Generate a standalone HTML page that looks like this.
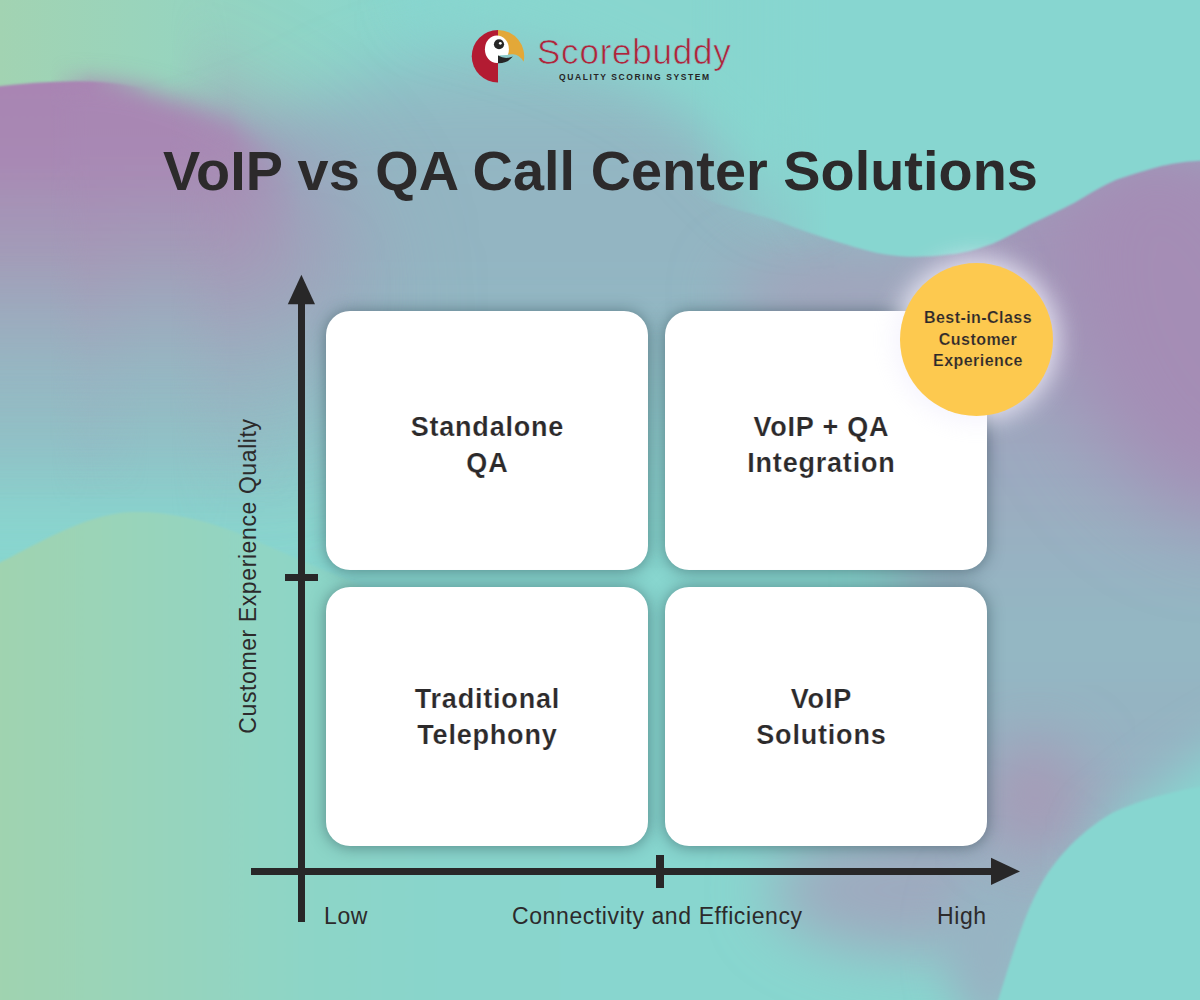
<!DOCTYPE html>
<html><head><meta charset="utf-8">
<style>
html,body{margin:0;padding:0;}
body{width:1200px;height:1000px;overflow:hidden;position:relative;font-family:"Liberation Sans",sans-serif;color:#2c2a2b;background:#88d6cf;}
#bg{position:absolute;left:0;top:0;width:1200px;height:1000px;}
.abs{position:absolute;}
.card{position:absolute;background:#fff;border-radius:24px;box-shadow:0 1px 16px rgba(30,55,65,0.5);}
.ct{position:absolute;left:0;right:0;text-align:center;font-weight:bold;font-size:27px;line-height:36px;color:#2c2a2b;letter-spacing:0.8px;padding-left:0.8px;-webkit-text-stroke:0.2px #fff;}
.bar{position:absolute;background:#282728;}
.lbl{position:absolute;white-space:nowrap;font-size:23px;color:#2c2a2b;letter-spacing:0.6px;}
</style></head>
<body>
<svg id="bg" width="1200" height="1000" viewBox="0 0 1200 1000">
  <defs>
    <filter id="b2" x="-20%" y="-20%" width="140%" height="140%"><feGaussianBlur stdDeviation="1.2"/></filter>
    <filter id="b20" x="-50%" y="-50%" width="200%" height="200%"><feGaussianBlur stdDeviation="20"/></filter>
    <filter id="b30" x="-50%" y="-50%" width="200%" height="200%"><feGaussianBlur stdDeviation="30"/></filter>
    <filter id="b45" x="-50%" y="-50%" width="200%" height="200%"><feGaussianBlur stdDeviation="45"/></filter>
    <linearGradient id="gTop" x1="0" y1="0" x2="420" y2="0" gradientUnits="userSpaceOnUse">
      <stop offset="0" stop-color="#a2d3b2"/><stop offset="1" stop-color="#88d6cf"/>
    </linearGradient>
    <linearGradient id="gBot" x1="0" y1="0" x2="440" y2="0" gradientUnits="userSpaceOnUse">
      <stop offset="0" stop-color="#a0d3b0"/><stop offset="0.45" stop-color="#95d4bf"/><stop offset="0.7" stop-color="#8dd5c7"/><stop offset="1" stop-color="#89d5cc"/>
    </linearGradient>
    <linearGradient id="gBand" x1="0" y1="0" x2="0" y2="1000" gradientUnits="userSpaceOnUse">
      <stop offset="0.02" stop-color="#8fbfc6" stop-opacity="0.6"/>
      <stop offset="0.14" stop-color="#93b5c2" stop-opacity="1"/>
      <stop offset="0.31" stop-color="#93b5c2" stop-opacity="1"/>
      <stop offset="0.52" stop-color="#93b5c2" stop-opacity="0"/>
    </linearGradient>
    <linearGradient id="gPurL" x1="0" y1="80" x2="0" y2="500" gradientUnits="userSpaceOnUse">
      <stop offset="0" stop-color="#a985b3"/>
      <stop offset="0.2" stop-color="#a889b4"/>
      <stop offset="0.42" stop-color="#a49ab7" stop-opacity="0.9"/>
      <stop offset="0.7" stop-color="#9bb0c0" stop-opacity="0.35"/>
      <stop offset="1" stop-color="#96b1c2" stop-opacity="0"/>
    </linearGradient>
    <linearGradient id="gLeftLow" x1="0" y1="260" x2="0" y2="540" gradientUnits="userSpaceOnUse">
      <stop offset="0" stop-color="#9aaebf" stop-opacity="0.9"/>
      <stop offset="0.5" stop-color="#94bcc4" stop-opacity="0.7"/>
      <stop offset="1" stop-color="#8fc9c8" stop-opacity="0"/>
    </linearGradient>
    <linearGradient id="gRight" x1="0" y1="170" x2="0" y2="870" gradientUnits="userSpaceOnUse">
      <stop offset="0" stop-color="#a292b6"/>
      <stop offset="0.4" stop-color="#9da8bf"/>
      <stop offset="0.66" stop-color="#93b8c3"/>
      <stop offset="1" stop-color="#9aabc0"/>
    </linearGradient>
    <filter id="b55" x="-50%" y="-50%" width="200%" height="200%"><feGaussianBlur stdDeviation="55"/></filter>
    <filter id="b25" x="-50%" y="-50%" width="200%" height="200%"><feGaussianBlur stdDeviation="25"/></filter>
    <filter id="b12" x="-50%" y="-50%" width="200%" height="200%"><feGaussianBlur stdDeviation="12"/></filter>
    <linearGradient id="gmk1" x1="90" y1="0" x2="150" y2="0" gradientUnits="userSpaceOnUse"><stop offset="0" stop-color="#fff"/><stop offset="1" stop-color="#000"/></linearGradient>
    <linearGradient id="gmk2" x1="50" y1="0" x2="300" y2="0" gradientUnits="userSpaceOnUse"><stop offset="0" stop-color="#000"/><stop offset="0.16" stop-color="#fff"/><stop offset="0.72" stop-color="#fff"/><stop offset="1" stop-color="#000"/></linearGradient>
    <linearGradient id="gmk3" x1="170" y1="0" x2="230" y2="0" gradientUnits="userSpaceOnUse"><stop offset="0" stop-color="#000"/><stop offset="1" stop-color="#fff"/></linearGradient>
    <mask id="mk1" maskUnits="userSpaceOnUse" x="-100" y="-100" width="1400" height="1200"><rect x="-100" y="-100" width="1400" height="1200" fill="url(#gmk1)"/></mask>
    <mask id="mk2" maskUnits="userSpaceOnUse" x="-100" y="-100" width="1400" height="1200"><rect x="-100" y="-100" width="1400" height="1200" fill="url(#gmk2)"/></mask>
    <mask id="mk3" maskUnits="userSpaceOnUse" x="-100" y="-100" width="1400" height="1200"><rect x="-100" y="-100" width="1400" height="1200" fill="url(#gmk3)"/></mask>
    <linearGradient id="mLeft" x1="70" y1="0" x2="170" y2="0" gradientUnits="userSpaceOnUse">
      <stop offset="0" stop-color="#fff"/><stop offset="1" stop-color="#000"/>
    </linearGradient>
    <mask id="maskLeft" maskUnits="userSpaceOnUse" x="-100" y="-100" width="1400" height="1200"><rect x="-100" y="-100" width="1400" height="1200" fill="url(#mLeft)"/></mask>
    <linearGradient id="mRight" x1="690" y1="0" x2="830" y2="0" gradientUnits="userSpaceOnUse">
      <stop offset="0" stop-color="#000"/><stop offset="1" stop-color="#fff"/>
    </linearGradient>
    <mask id="maskRight" maskUnits="userSpaceOnUse" x="-100" y="-100" width="1400" height="1200"><rect x="-100" y="-100" width="1400" height="1200" fill="url(#mRight)"/></mask>
    <linearGradient id="mRightInv" x1="760" y1="0" x2="860" y2="0" gradientUnits="userSpaceOnUse">
      <stop offset="0" stop-color="#fff"/><stop offset="1" stop-color="#000"/>
    </linearGradient>
    <mask id="maskRightInv" maskUnits="userSpaceOnUse" x="-100" y="-100" width="1400" height="1200"><rect x="-100" y="-100" width="1400" height="1200" fill="url(#mRightInv)"/></mask>
  </defs>
  <rect width="1200" height="1000" fill="#88d6cf"/>
  <rect width="1200" height="300" fill="url(#gTop)"/>
  <!-- left/middle grey band with vertical fade -->
  <g filter="url(#b30)"><path d="M-100 200 C 50 190 200 150 300 110 C 400 40 600 10 700 60 C 780 120 840 200 900 240 L 900 1000 L -100 1000 Z" fill="url(#gBand)"/></g>
  <!-- right grey band -->
  <g filter="url(#b30)"><path d="M900 200 L1300 140 L1300 860 C 1200 880 1100 880 900 870 Z" fill="url(#gRight)"/></g>
  <g filter="url(#b30)"><ellipse cx="920" cy="890" rx="150" ry="65" fill="#9eaabf"/></g>
  <g filter="url(#b20)"><ellipse cx="990" cy="945" rx="45" ry="85" fill="#97b4c3"/></g>
  <g filter="url(#b30)"><ellipse cx="860" cy="295" rx="130" ry="45" fill="#a1a4bc"/></g>
  <g filter="url(#b30)"><rect x="-100" y="260" width="420" height="280" fill="url(#gLeftLow)"/></g>
  <!-- left purple blob: variable blur via masked copies -->
  <g mask="url(#mk1)"><path d="M-50 92 C 0 86 50 79 100 82 C 160 86 220 112 270 148 C 310 178 340 215 360 260 L 370 600 L -50 600 Z" fill="url(#gPurL)" filter="url(#b2)"/></g>
  <g mask="url(#mk2)"><g filter="url(#b12)"><path d="M-50 92 C 0 86 50 79 100 82 C 160 86 220 112 270 148 C 310 178 340 215 360 260 L 370 600 L -50 600 Z" fill="url(#gPurL)"/></g></g>
  <g mask="url(#mk3)"><g filter="url(#b55)"><path d="M-50 92 C 0 86 50 79 100 82 C 160 86 220 112 270 148 C 310 178 340 215 360 260 L 370 600 L -50 600 Z" fill="url(#gPurL)"/></g></g>
  <!-- purple right -->
  <g filter="url(#b45)"><ellipse cx="1190" cy="320" rx="130" ry="210" transform="rotate(-20 1190 320)" fill="#a48db5"/></g>
  <g filter="url(#b30)"><ellipse cx="1035" cy="795" rx="50" ry="55" fill="#a799b6" opacity="0.9"/></g>
  <!-- teal top wave -->
  <g mask="url(#maskRightInv)"><g filter="url(#b30)"><path d="M420 -80 L1300 -80 L1300 100 L 900 180 C 840 200 810 212 780 205 C 740 180 710 130 660 95 C 600 60 520 30 420 10 Z" fill="#88d6cf"/></g></g>
  <g mask="url(#maskRight)"><path d="M600 -50 L1300 -50 L1300 158 L1200 160.8 C 1180 162 1170 164 1158 167 C 1140 172 1130 175 1117 179.6 C 1100 187 1090 194 1075 202.5 C 1060 210 1048 216 1033 223 C 1020 230 1005 238 992 244 C 975 250 965 253 950 254.6 C 935 256.5 920 257 908 256.7 C 895 256 880 254 867 250.4 C 850 246 838 242 825 238 C 810 233 795 228 783 223 C 770 218 755 214 742 211 C 720 205 700 198 680 190 L 600 150 Z" fill="#87d6d0" filter="url(#b2)"/></g>
  <!-- green bottom-left blob -->
  <path d="M-20 572 C 20 555 70 520 120 513 C 150 509 195 516 235 532 C 270 546 320 570 400 600 L 560 640 L 560 1100 L -20 1100 Z" fill="url(#gBot)" filter="url(#b2)"/>
  <!-- teal bottom-right blob -->
  <g filter="url(#b25)"><path d="M1100 835 C 1140 805 1180 760 1300 705 L 1300 900 L 1100 900 Z" fill="#87d6d0"/></g>
  <path d="M995 1010 C 1008 970 1022 920 1037 892 C 1050 865 1075 835 1112 813 C 1140 800 1170 792 1210 785 L 1260 785 L 1260 1010 Z" fill="#87d6d0" filter="url(#b2)"/>
</svg>

<!-- logo -->
<svg class="abs" style="left:465px;top:25px" width="70" height="65" viewBox="465 25 70 65">
  <path d="M498 30 A26.25 26.25 0 0 0 498 82.5 Z" fill="#b31b32"/>
  <path d="M498 30 A26.25 26.25 0 0 1 523.6 61.8 Q519 53.6 512 54.2 L498 55.3 Z" fill="#e3a838"/>
  <clipPath id="wclip"><rect x="480" y="30" width="18" height="40"/><path d="M498 30 L515 30 L515 54.3 L498 55.6 Z"/></clipPath><ellipse cx="496.9" cy="49.3" rx="12" ry="13.7" fill="#fff" clip-path="url(#wclip)"/>
  <path d="M498 55.6 Q505 59.8 512.8 56.6 Q507 63.6 498 63.2 Z" fill="#262626"/>
  <circle cx="499" cy="44.25" r="5.1" fill="#262626"/>
  <circle cx="500.3" cy="43.3" r="1.4" fill="#fff"/>
</svg>
<div class="abs" style="left:537px;top:32px;font-size:35px;letter-spacing:0.78px;color:#b0243a;white-space:nowrap;-webkit-text-stroke:0.7px #8bcdcc;">Scorebuddy</div>
<div class="abs" style="left:559px;top:72px;font-size:8.5px;font-weight:bold;letter-spacing:1.6px;color:#262626;white-space:nowrap;">QUALITY SCORING SYSTEM</div>

<!-- title -->
<div class="abs" style="left:163px;top:138px;font-size:55.8px;font-weight:bold;white-space:nowrap;color:#2c2a2b;letter-spacing:0.05px;">VoIP vs QA Call Center Solutions</div>

<!-- cards -->
<div class="card" style="left:326px;top:311px;width:322px;height:259px;"><div class="ct" style="top:98px">Standalone<br>QA</div></div>
<div class="card" style="left:665px;top:311px;width:322px;height:259px;"><div class="ct" style="top:98px;left:-10px;">VoIP + QA<br>Integration</div></div>
<div class="card" style="left:326px;top:587px;width:322px;height:259px;"><div class="ct" style="top:94px">Traditional<br>Telephony</div></div>
<div class="card" style="left:665px;top:587px;width:322px;height:259px;"><div class="ct" style="top:94px;left:-10px;">VoIP<br>Solutions</div></div>

<!-- yellow circle -->
<div class="abs" style="left:900px;top:263px;width:153px;height:153px;border-radius:50%;background:#fdc94f;box-shadow:0 0 24px 6px rgba(242,240,252,0.8);"></div>
<div class="abs" style="left:901.5px;top:307px;width:153px;text-align:center;font-size:16px;line-height:21.5px;font-weight:bold;color:#2c2a2b;letter-spacing:0.45px;-webkit-text-stroke:0.2px #fdc94f;">Best-in-Class<br>Customer<br>Experience</div>

<!-- axes -->
<div class="bar" style="left:297.5px;top:300px;width:7.5px;height:622px;"></div>
<svg class="abs" style="left:285px;top:274px" width="32" height="32" viewBox="285 274 32 32"><path d="M301.4 274.8 L315 304.2 L287.8 304.2 Z" fill="#282728"/></svg>
<div class="bar" style="left:285px;top:574px;width:33px;height:7.2px;"></div>
<div class="bar" style="left:251px;top:868px;width:745px;height:7px;"></div>
<svg class="abs" style="left:990px;top:856px" width="32" height="30" viewBox="990 856 32 30"><path d="M1020 871.4 L991 857.8 L991 885 Z" fill="#282728"/></svg>
<div class="bar" style="left:656px;top:855px;width:7.8px;height:33px;"></div>

<!-- labels -->
<div class="lbl" style="left:324px;top:903px;">Low</div>
<div class="lbl" style="left:512px;top:903px;">Connectivity and Efficiency</div>
<div class="lbl" style="left:937px;top:903px;">High</div>
<div class="lbl" style="left:248px;top:576px;transform:translate(-50%,-50%) rotate(-90deg);">Customer Experience Quality</div>
</body></html>
